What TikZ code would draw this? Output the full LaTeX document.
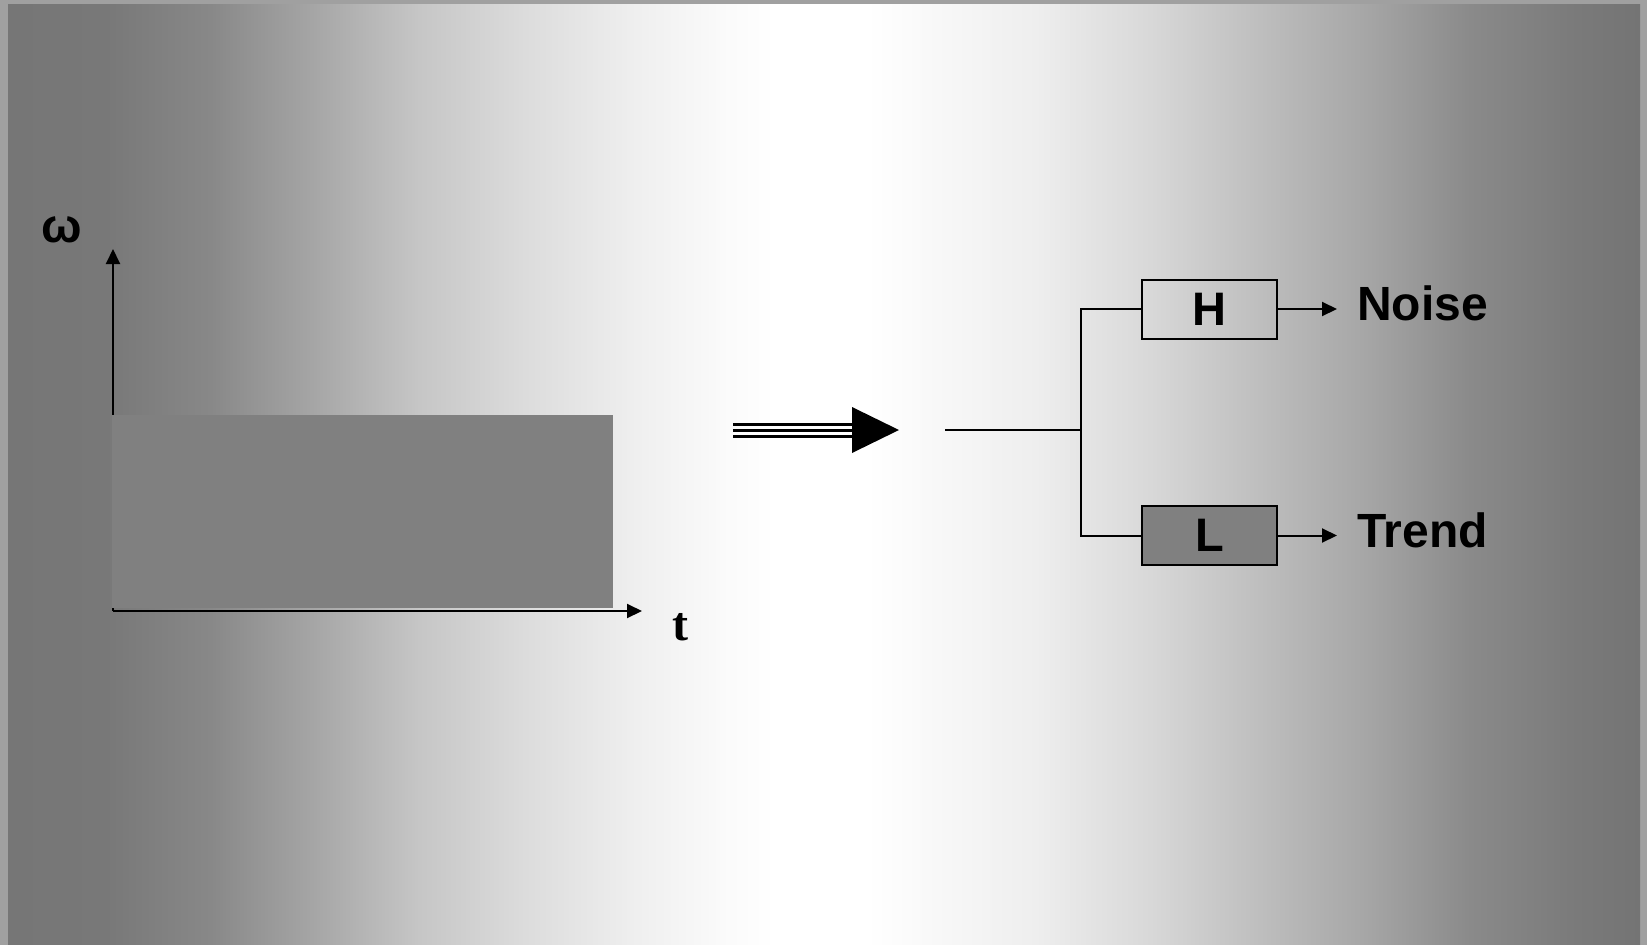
\documentclass[tikz,border=0pt]{standalone}
\usepackage{fontspec}
\setmainfont{Liberation Sans}
\newfontfamily\serifbold{Liberation Serif}
\usetikzlibrary{arrows.meta}
\definecolor{framegray}{RGB}{160,160,160}
\definecolor{boxgray}{RGB}{128,128,128}
\definecolor{ga}{RGB}{118,118,118}
\definecolor{gb}{RGB}{120,120,120}
\definecolor{gc}{RGB}{136,136,136}
\definecolor{gd}{RGB}{166,166,166}
\definecolor{ge}{RGB}{198,198,198}
\definecolor{gf}{RGB}{220,220,220}
\definecolor{gg}{RGB}{238,238,238}
\definecolor{gh}{RGB}{250,250,250}
\definecolor{gi}{RGB}{255,255,255}
\definecolor{gj}{RGB}{238,238,238}
\definecolor{gk}{RGB}{216,216,216}
\definecolor{gl}{RGB}{190,190,190}
\definecolor{gm}{RGB}{166,166,166}
\definecolor{gn}{RGB}{138,138,138}
\definecolor{go}{RGB}{122,122,122}
\definecolor{gp}{RGB}{116,116,116}
\pgfdeclarehorizontalshading{bgshade}{100bp}{color(0bp)=(ga); color(25bp)=(ga); color(28bp)=(gb);
  color(31.2bp)=(gc); color(34.4bp)=(gd); color(37.6bp)=(ge); color(40.85bp)=(gf); color(44.05bp)=(gg);
  color(46.8bp)=(gh); color(48.5bp)=(gi); color(51.3bp)=(gi); color(56.5bp)=(gj); color(60bp)=(gk);
  color(63.35bp)=(gl); color(66.6bp)=(gm); color(69.8bp)=(gn); color(73.05bp)=(go); color(75bp)=(gp);
  color(100bp)=(gp)}
\tikzset{
  conn/.style={line width=2pt},
  arr/.style={line width=2pt,-{Triangle[length=15pt,width=14pt]}},
  filterbox/.style={draw, line width=2pt, minimum width=135pt, minimum height=59pt, inner sep=0pt,
    font=\bfseries\fontsize{47}{50}\selectfont},
  outlabel/.style={anchor=base west, inner sep=0pt, font=\bfseries\fontsize{48}{50}\selectfont},
}
\begin{document}
\begin{tikzpicture}[x=1pt,y=-1pt]
\useasboundingbox (0,0) rectangle (1647,945);
\fill[framegray] (0,0) rectangle (1647,945);
\shade[shading=bgshade] (8,4) rectangle (1640,945);

% time-frequency plane
\coordinate (origin) at (113,611);
\coordinate (ytip) at (113,249);
\coordinate (xtip) at (642,611);
\draw[arr] (origin) -- (ytip);
\draw[arr] (origin) -- (xtip);
\fill[boxgray] (112,415) rectangle (613,608);
\node[font=\bfseries\fontsize{48}{50}\selectfont, inner sep=0pt] (omega) at (62,230) {ω};
\node[font=\serifbold\bfseries\fontsize{48}{50}\selectfont, inner sep=0pt] (tlabel) at (680,627) {t};

% big triple arrow
\coordinate (bigstart) at (733,430);
\coordinate (bigbase) at (853,430);
\coordinate (bigtip) at (899,430);
\draw[line width=3pt] (733,424) -- (853,424);
\draw[line width=3pt] (bigstart) -- (bigbase);
\draw[line width=3pt] (733,436) -- (853,436);
\fill (852,407) -- (bigtip) -- (852,453) -- cycle;

% filter bank
\node[filterbox] (H) at (1209.5,309) {H};
\node[filterbox, fill=boxgray] (L) at (1209.5,535.5) {L};
\node[outlabel] (noise) at (1357,320) {Noise};
\node[outlabel] (trend) at (1357,547) {Trend};
\coordinate (in) at (945,430);
\coordinate (split) at (1081,430);
\draw[conn] (in) -- (split);
\draw[conn] (H.west) -| (split) |- (L.west);
\draw[arr, shorten >=20pt] (H.east) -- (H.east -| noise.west);
\draw[arr, shorten >=20pt] (L.east) -- (L.east -| trend.west);
\end{tikzpicture}
\end{document}
